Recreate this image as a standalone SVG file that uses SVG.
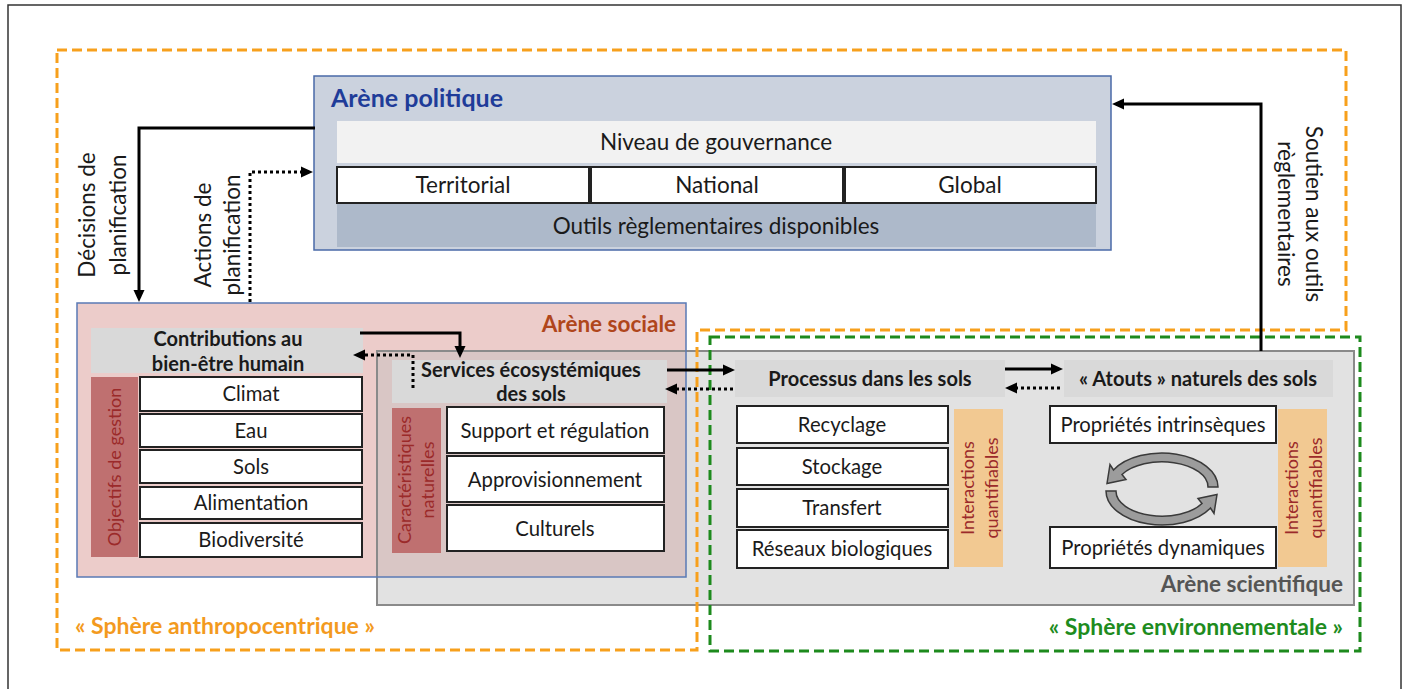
<svg xmlns="http://www.w3.org/2000/svg" width="1410" height="689" viewBox="0 0 1410 689">
<defs>
<marker id="ah" markerUnits="userSpaceOnUse" markerWidth="13" markerHeight="12" refX="8" refY="6" orient="auto"><path d="M0,0.5 L12,6 L0,11.5 z" fill="#000"/></marker>
</defs>
<style>
text{font-family:Lato,"Open Sans","Liberation Sans",sans-serif;fill:#1a1a1a}
.c{text-anchor:middle}
.item{fill:#fff;stroke:#222;stroke-width:2}
.hdr{fill:#d9d9d9}
.f18{font-size:20.3px}
.f20{font-size:22.5px}
.b{font-weight:bold}
.hb{font-size:20px;font-weight:bold}
.vlab{font-size:18px;fill:#9b2a2a}
.redbar{fill:#bf7070}
.orbar{fill:#f2c992}
.solid{fill:none;stroke:#000;stroke-width:3;marker-end:url(#ah)}
.dot{fill:none;stroke:#000;stroke-width:3;stroke-dasharray:3 3;marker-end:url(#ah)}
.arc{fill:#9c9c9c;stroke:#3a3a3a;stroke-width:1.5}
</style>
<rect x="8" y="5" width="1393" height="700" fill="#fff" stroke="#333" stroke-width="1.5"/>

<g id="arene-scientifique">
<rect x="377" y="351" width="977" height="254" fill="#e2e2e2"/>
</g>
<g id="arene-sociale">
<rect x="77" y="303" width="609" height="274" fill="#ecccca"/>
<rect x="377" y="351" width="309" height="226" fill="#d9c6c5"/>
<rect x="377" y="351" width="977" height="254" fill="none" stroke="#8a8a8a" stroke-width="2"/>
<rect x="77" y="303" width="609" height="274" fill="none" stroke="#5a7ab5" stroke-width="1.5"/>
<text x="676" y="332" class="b" style="font-size:22.5px;fill:#b0461c;text-anchor:end">Arène sociale</text>
</g>
<text x="1343" y="592" class="b" style="font-size:22.5px;fill:#555;text-anchor:end">Arène scientifique</text>

<g id="spheres">
<path d="M57,50 H1346 V330 H697 V650 H57 Z" fill="none" stroke="#f7a01c" stroke-width="3" stroke-dasharray="10 5"/>
<rect x="710" y="337" width="650" height="314" fill="none" stroke="#1d8a1d" stroke-width="3" stroke-dasharray="10 5"/>
<text x="75" y="634" class="b" style="font-size:23px;fill:#f39a1e">« Sphère anthropocentrique »</text>
<text x="1343" y="635" class="b" style="font-size:23px;fill:#1e8c1e;text-anchor:end">« Sphère environnementale »</text>
</g>

<g id="arene-politique">
<rect x="314" y="76" width="797" height="174" fill="#cbd2de" stroke="#4a6aa8" stroke-width="1.5"/>
<text x="331" y="107" class="b" style="font-size:25px;fill:#1f3c99">Arène politique</text>
<rect x="337" y="121" width="759" height="42" fill="#f2f2f2"/>
<text x="716" y="150" class="c f20">Niveau de gouvernance</text>
<rect x="337" y="167" width="252" height="36" class="item"/>
<rect x="591" y="167" width="252" height="36" class="item"/>
<rect x="845" y="167" width="251" height="36" class="item"/>
<text x="463" y="193" class="c f20">Territorial</text>
<text x="717" y="193" class="c f20">National</text>
<text x="970" y="193" class="c f20">Global</text>
<rect x="337" y="204" width="759" height="43" fill="#adb9ca"/>
<text x="716" y="234" class="c f20">Outils règlementaires disponibles</text>
</g>

<g id="contributions">
<rect x="91" y="328" width="272" height="45" class="hdr"/>
<text x="228" y="346" class="c hb">Contributions au</text>
<text x="228" y="371" class="c hb">bien-être humain</text>
<rect x="91" y="377" width="47" height="180" class="redbar"/>
<text transform="translate(121,467) rotate(-90)" class="c vlab">Objectifs de gestion</text>
<rect x="140" y="377" width="222" height="34" class="item"/>
<rect x="140" y="414" width="222" height="33" class="item"/>
<rect x="140" y="450" width="222" height="33" class="item"/>
<rect x="140" y="487" width="222" height="32" class="item"/>
<rect x="140" y="523" width="222" height="34" class="item"/>
<text x="251" y="401" class="c f18">Climat</text>
<text x="251" y="438" class="c f18">Eau</text>
<text x="251" y="474" class="c f18">Sols</text>
<text x="251" y="510" class="c f18">Alimentation</text>
<text x="251" y="547" class="c f18">Biodiversité</text>
</g>

<g id="services">
<rect x="392" y="360" width="275" height="43" class="hdr"/>
<text x="531" y="377" class="c hb">Services écosystémiques</text>
<text x="531" y="401" class="c hb">des sols</text>
<rect x="392" y="408" width="49" height="145" class="redbar"/>
<text transform="translate(411,480) rotate(-90)" class="c vlab">Caractéristiques</text>
<text transform="translate(434,480) rotate(-90)" class="c vlab">naturelles</text>
<rect x="447" y="407" width="217" height="46" class="item"/>
<rect x="447" y="456" width="217" height="46" class="item"/>
<rect x="447" y="505" width="217" height="46" class="item"/>
<text x="555" y="438" class="c f18">Support et régulation</text>
<text x="555" y="487" class="c f18">Approvisionnement</text>
<text x="555" y="536" class="c f18">Culturels</text>
</g>

<g id="processus">
<rect x="735" y="360" width="270" height="37" class="hdr"/>
<text x="870" y="386" class="c hb">Processus dans les sols</text>
<rect x="737" y="406" width="211" height="37" class="item"/>
<rect x="737" y="448" width="211" height="37" class="item"/>
<rect x="737" y="489" width="211" height="38" class="item"/>
<rect x="737" y="530" width="211" height="38" class="item"/>
<text x="842" y="432" class="c f18">Recyclage</text>
<text x="842" y="474" class="c f18">Stockage</text>
<text x="842" y="515" class="c f18">Transfert</text>
<text x="842" y="556" class="c f18">Réseaux biologiques</text>
<rect x="954" y="409" width="49" height="158" class="orbar"/>
<text transform="translate(974,488) rotate(-90)" class="c vlab">Interactions</text>
<text transform="translate(998,488) rotate(-90)" class="c vlab">quantifiables</text>
</g>

<g id="atouts">
<rect x="1064" y="360" width="269" height="37" class="hdr"/>
<text x="1198" y="386" class="c hb">« Atouts » naturels des sols</text>
<rect x="1050" y="406" width="226" height="37" class="item"/>
<rect x="1050" y="527" width="226" height="41" class="item"/>
<text x="1163" y="432" class="c f18">Propriétés intrinsèques</text>
<text x="1163" y="555" class="c f18">Propriétés dynamiques</text>
<rect x="1278" y="409" width="49" height="158" class="orbar"/>
<text transform="translate(1298,488) rotate(-90)" class="c vlab">Interactions</text>
<text transform="translate(1322,488) rotate(-90)" class="c vlab">quantifiables</text>
<path class="arc" d="M1218,487 A56,34 0 0 0 1113.5,470 L1110,464.5 L1107,483.5 L1126,479.5 L1122,474.5 A46,25 0 0 1 1208,487 Z"/>
<path class="arc" transform="rotate(180 1162 489)" d="M1218,487 A56,34 0 0 0 1113.5,470 L1110,464.5 L1107,483.5 L1126,479.5 L1122,474.5 A46,25 0 0 1 1208,487 Z"/>
</g>

<g id="connectors">
<path class="solid" d="M315,128 H139 V298"/>
<path class="dot" d="M250,302 V172 H309"/>
<path class="solid" d="M1261,351 V104 H1116"/>
<path class="solid" d="M360,333 H460 V354"/>
<path class="dot" d="M413,388 V355 H357"/>
<path class="solid" d="M667,370 H731"/>
<path class="dot" d="M733,389 H669"/>
<path class="solid" d="M1005,369 H1059"/>
<path class="dot" d="M1060,388 H1009"/>
<text transform="translate(95,215) rotate(-90)" class="c f20">Décisions de<tspan x="0" dy="31">planification</tspan></text>
<text transform="translate(211,235) rotate(-90)" class="c f20">Actions de<tspan x="0" dy="29">planification</tspan></text>
<text transform="translate(1306,214) rotate(90)" class="c f20">Soutien aux outils<tspan x="0" dy="28">règlementaires</tspan></text>
</g>
</svg>
